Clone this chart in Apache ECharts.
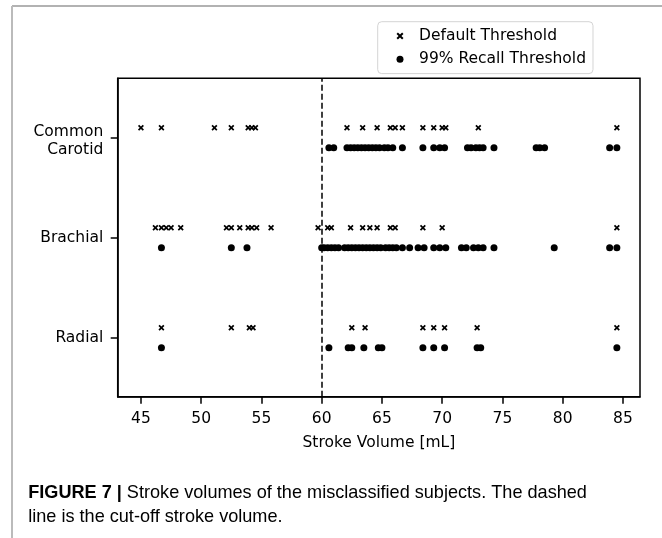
<!DOCTYPE html>
<html><head><meta charset="utf-8">
<script src="https://cdn.jsdelivr.net/npm/echarts@6/dist/echarts.min.js"></script>
<style>html,body{margin:0;padding:0;background:#fff}#c{width:662px;height:538px}</style>
</head><body><div id="c"></div>
<script>
// ---- data ----
const categories = ['Radial', 'Brachial', 'Common\nCarotid'];
const xTicks = [45, 50, 55, 60, 65, 70, 75, 80, 85];
const cutoff = 60;
const carotidDefault = [45.0, 46.7, 51.1, 52.5, 53.9, 54.2, 54.5, 62.1, 63.4, 64.6, 65.7, 66.1, 66.7, 68.4, 69.3, 70.0, 70.3, 73.0, 84.5];
const carotidRecall = [60.6, 61.0, 62.1, 62.4, 62.7, 63.0, 63.3, 63.6, 63.9, 64.2, 64.5, 64.8, 65.2, 65.5, 65.9, 66.7, 68.4, 69.3, 69.8, 70.2, 72.1, 72.4, 72.8, 73.1, 73.4, 74.3, 77.8, 78.1, 78.5, 83.9, 84.5];
const brachialDefault = [46.2, 46.7, 47.1, 47.5, 48.3, 52.1, 52.5, 53.2, 53.9, 54.2, 54.6, 55.8, 59.7, 60.5, 60.8, 62.4, 63.4, 64.0, 64.6, 65.7, 66.1, 68.4, 70.0, 84.5];
const brachialRecall = [46.7, 52.5, 53.8, 60.0, 60.2, 60.5, 60.8, 61.1, 61.4, 61.9, 62.2, 62.5, 62.8, 63.1, 63.4, 63.7, 64.0, 64.3, 64.6, 64.9, 65.3, 65.6, 65.9, 66.2, 66.7, 67.3, 68.0, 68.5, 69.3, 69.8, 70.3, 71.6, 72.0, 72.6, 73.0, 73.4, 74.3, 79.3, 83.9, 84.5];
const radialDefault = [46.7, 52.5, 54.0, 54.3, 62.5, 63.6, 68.4, 69.3, 70.2, 72.9, 84.5];
const radialRecall = [46.7, 60.6, 62.2, 62.5, 63.5, 64.7, 65.0, 68.4, 69.3, 70.2, 72.9, 73.2, 84.5];
const seriesNames = ['Default Threshold', '99% Recall Threshold'];
const captionBold = 'FIGURE 7 |';
const captionLine1 = ' Stroke volumes of the misclassified subjects. The dashed';
const captionLine2 = 'line is the cut-off stroke volume.';

// ---- build ----
const defaultByCat = [radialDefault, brachialDefault, carotidDefault];
const recallByCat = [radialRecall, brachialRecall, carotidRecall];
const OFF = 0.1;
const defaultData = [], recallData = [];
defaultByCat.forEach((arr, i) => arr.forEach(v => defaultData.push([v, i + OFF])));
recallByCat.forEach((arr, i) => arr.forEach(v => recallData.push([v, i - OFF])));

const xPath = 'path://M2,0 L5,3 L8,0 L10,2 L7,5 L10,8 L8,10 L5,7 L2,10 L0,8 L3,5 L0,2 Z';
const FONT = 'DejaVu Sans';

function textW(font, s) {
  const c = document.createElement('canvas').getContext('2d');
  c.font = font; return c.measureText(s).width;
}
const capSize = 17.7, capFam = 'Liberation Sans';
const wB = textW('bold ' + capSize + 'px "' + capFam + '"', captionBold);
const wR = textW(capSize + 'px "' + capFam + '"', captionLine1);
const capScale = 558.7 / (wB + wR);

const chart = echarts.init(document.getElementById('c'), null, {renderer: 'canvas'});
chart.setOption({
  animation: false,
  backgroundColor: '#fff',
  grid: {left: 117.7, right: 22, top: 78.3, bottom: 141.3, show: true, borderColor: '#000', borderWidth: 1.5, backgroundColor: 'transparent'},
  legend: {
    orient: 'vertical', left: 377.7, top: 21.7,
    padding: [5.8, 7, 5.8, 18.8],
    itemWidth: 28.1, itemHeight: 7, itemGap: 6.3,
    borderColor: '#d4d4d4', borderWidth: 1, borderRadius: 4, backgroundColor: '#fff',
    textStyle: {fontFamily: FONT, fontSize: 15.5, lineHeight: 17, color: '#000'},
    data: [{name: seriesNames[0], icon: xPath}, {name: seriesNames[1], icon: 'circle'}],
    selectedMode: false
  },
  xAxis: {
    type: 'value', min: 43.07, max: 86.42,
    name: 'Stroke Volume [mL]', nameLocation: 'middle', nameGap: 38.5,
    nameTextStyle: {fontFamily: FONT, fontSize: 15.5, color: '#000', lineHeight: 16},
    axisLine: {show: true, onZero: false, lineStyle: {color: '#000', width: 1.5}},
    axisTick: {show: true, length: 7, lineStyle: {color: '#000', width: 1.5}, customValues: xTicks},
    axisLabel: {fontFamily: FONT, fontSize: 15.5, color: '#000', margin: 14, lineHeight: 16, customValues: xTicks},
    splitLine: {show: false}
  },
  yAxis: {
    type: 'value', min: -0.59, max: 2.595,
    axisLine: {show: true, onZero: false, lineStyle: {color: '#000', width: 1.5}},
    axisTick: {show: true, length: 7, lineStyle: {color: '#000', width: 1.5}, customValues: [0, 1, 2]},
    axisLabel: {fontFamily: FONT, fontSize: 15.5, color: '#000', margin: 14.4, lineHeight: 18.3, align: 'right',
      customValues: [0, 1, 2],
      formatter: v => { const t = categories[Math.round(v)]; return t.indexOf('\n') >= 0 ? '{m|' + t.replace('\n', '}\n{m|') + '}' : t; },
      rich: {m: {fontFamily: FONT, fontSize: 15.5, color: '#000', lineHeight: 18.3, align: 'right', padding: [6, 0, 0, 0]}}},
    splitLine: {show: false}
  },
  series: [
    {name: seriesNames[0], type: 'scatter', symbol: xPath, symbolSize: 6, itemStyle: {color: '#000', opacity: 1}, data: defaultData,
     markLine: {silent: true, symbol: ['none', 'none'], label: {show: false}, animation: false,
       lineStyle: {color: '#000', width: 1.5, type: [6, 3]}, data: [{xAxis: cutoff}]}},
    {name: seriesNames[1], type: 'scatter', symbol: 'circle', symbolSize: 7, itemStyle: {color: '#000', opacity: 1}, data: recallData}
  ],
  graphic: [
    {type: 'line', shape: {x1: 12, y1: 6, x2: 662, y2: 6}, style: {stroke: '#999', lineWidth: 1.5}, silent: true},
    {type: 'line', shape: {x1: 12, y1: 6, x2: 12, y2: 538}, style: {stroke: '#bbb', lineWidth: 2}, silent: true},
    {type: 'group', x: 28.2, y: 493.5, scaleX: capScale, children: [
      {type: 'text', x: 0, y: 0, style: {text: captionBold, fontFamily: capFam, fontSize: capSize, fontWeight: 'bold', fill: '#000', verticalAlign: 'middle'}},
      {type: 'text', x: wB, y: 0, style: {text: captionLine1, fontFamily: capFam, fontSize: capSize, fill: '#000', verticalAlign: 'middle'}}
    ]},
    {type: 'group', x: 28.2, y: 517.5, scaleX: capScale, children: [
      {type: 'text', x: 0, y: 0, style: {text: captionLine2, fontFamily: capFam, fontSize: capSize, fill: '#000', verticalAlign: 'middle'}}
    ]}
  ]
});
</script></body></html>
